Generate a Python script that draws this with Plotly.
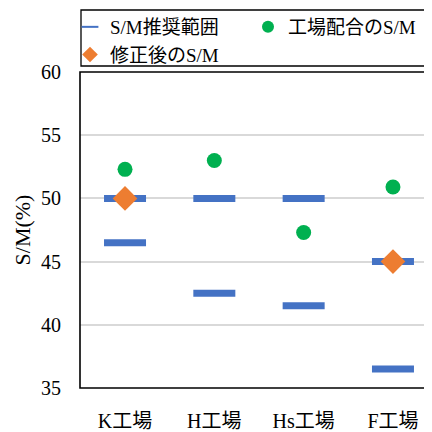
import plotly.graph_objects as go

categories = ["K工場", "H工場", "Hs工場", "F工場"]
rec_upper = [50.0, 50.0, 50.0, 45.0]
rec_lower = [46.5, 42.5, 41.5, 36.5]
factory_sm = [52.3, 53.0, 47.3, 50.9]
corrected_cats = ["K工場", "F工場"]
corrected_sm = [50.0, 45.0]
y_ticks = [35, 40, 45, 50, 55, 60]

FONT = "Liberation Serif, 'Noto Sans CJK JP', serif"

# page body has an 8px margin; work in figure pixels = screen pixels - 8
OFF = 8
FIG_W = 432 - OFF
FIG_H = 432 - OFF
MB = 44                      # bottom margin (fig px)
PAPER_H = FIG_H - MB         # paper spans fig y 0..PAPER_H
PLOT_L = 80 - OFF            # plot left (fig px)
PLOT_T = 72 - OFF            # plot top (fig px)

def px_x(p):
    return (p - OFF) / FIG_W

def px_y(p):
    return (PAPER_H - (p - OFF)) / PAPER_H

X_DOM = [PLOT_L / FIG_W, 1.0]
Y_DOM = [0.0, (PAPER_H - PLOT_T) / PAPER_H]

fig = go.Figure()
fig.add_trace(go.Scatter(
    x=categories + categories, y=rec_upper + rec_lower, mode="markers",
    name="S/M推奨範囲",
    marker=dict(symbol="line-ew", size=30, color="#4472C4",
                line=dict(color="#4472C4", width=7)),
))
fig.add_trace(go.Scatter(
    x=categories, y=factory_sm, mode="markers", name="工場配合のS/M",
    marker=dict(symbol="circle", size=15, color="#00B050", line=dict(width=0)),
))
fig.add_trace(go.Scatter(
    x=corrected_cats, y=corrected_sm, mode="markers", name="修正後のS/M",
    marker=dict(symbol="diamond", size=19, color="#ED7D31", line=dict(width=0)),
))

fig.update_layout(
    width=FIG_W, height=FIG_H,
    margin=dict(l=0, r=0, t=0, b=MB, autoexpand=False),
    paper_bgcolor="white", plot_bgcolor="white",
    font=dict(family=FONT, size=20, color="black"),
    showlegend=True,
    legend=dict(
        orientation="h", x=px_x(70), y=1.0, xanchor="left", yanchor="top",
        entrywidth=133, entrywidthmode="pixels", itemsizing="constant",
        bgcolor="rgba(0,0,0,0)", borderwidth=0,
        font=dict(family=FONT, size=19, color="black"),
        itemclick=False, itemdoubleclick=False, tracegroupgap=0,
    ),
    xaxis=dict(
        domain=X_DOM, automargin=False,
        type="category", categoryorder="array", categoryarray=categories,
        range=[-0.504, 3.437], showgrid=False, showline=False, zeroline=False,
        ticks="", ticklabelstandoff=19,
        tickfont=dict(family=FONT, size=20, color="black"),
    ),
    yaxis=dict(
        domain=Y_DOM, automargin=False,
        range=[35, 60], tickvals=y_ticks, showgrid=True, gridcolor="#D9D9D9",
        gridwidth=1.5, zeroline=False, showline=False, ticks="",
        ticklabelstandoff=18,
        tickfont=dict(family=FONT, size=20, color="black"),
        title=dict(text="S/M(%)", font=dict(family=FONT, size=22, color="black"),
                   standoff=4),
    ),
    shapes=[
        dict(type="rect", xref="paper", yref="paper", x0=X_DOM[0], x1=1.05,
             y0=Y_DOM[0], y1=Y_DOM[1],
             line=dict(color="black", width=1.6), layer="above",
             fillcolor="rgba(0,0,0,0)"),
        dict(type="rect", xref="paper", yref="paper", x0=px_x(81), x1=1.05,
             y0=px_y(66), y1=px_y(10),
             line=dict(color="black", width=1.3), layer="above",
             fillcolor="rgba(0,0,0,0)"),
    ],
)

fig.write_html("out.html")
